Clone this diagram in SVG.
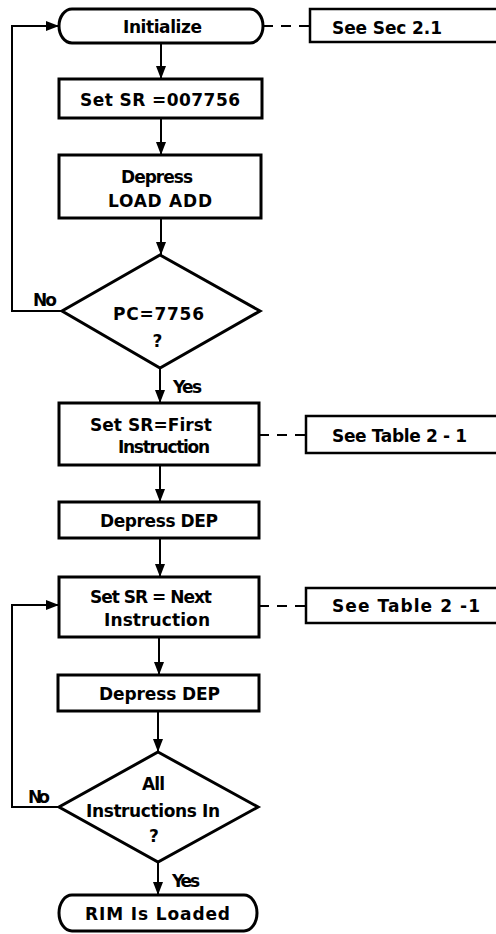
<svg xmlns="http://www.w3.org/2000/svg" width="496" height="934" viewBox="0 0 496 934">
<style>
.box{fill:#fff;stroke:#000;stroke-width:3}
.ann{fill:none;stroke:#000;stroke-width:2.5}
.conn{fill:none;stroke:#000;stroke-width:2}
.dash{stroke-dasharray:10 8}
.t{font-family:"DejaVu Sans","Liberation Sans",sans-serif;font-weight:bold;font-size:17px;text-anchor:middle;fill:#000}
</style>
<defs>
<marker id="ah" markerUnits="userSpaceOnUse" markerWidth="13" markerHeight="10" refX="13" refY="5" orient="auto">
<path d="M0,0 L13,5 L0,10 z" fill="#000"/>
</marker>
</defs>
<rect width="496" height="934" fill="#fff"/>
<g id="connectors">
<line class="conn" x1="161" y1="43" x2="161" y2="79" marker-end="url(#ah)"/>
<line class="conn" x1="161" y1="118" x2="161" y2="155" marker-end="url(#ah)"/>
<line class="conn" x1="161" y1="218" x2="161" y2="255" marker-end="url(#ah)"/>
<line class="conn" x1="160" y1="368" x2="160" y2="403" marker-end="url(#ah)"/>
<polyline class="conn" points="62,311 12,311 12,26 59,26" marker-end="url(#ah)"/>
<line class="conn" x1="160" y1="465" x2="160" y2="502" marker-end="url(#ah)"/>
<line class="conn" x1="160" y1="538" x2="160" y2="577" marker-end="url(#ah)"/>
<line class="conn" x1="159" y1="637" x2="159" y2="675" marker-end="url(#ah)"/>
<line class="conn" x1="158" y1="711" x2="158" y2="752" marker-end="url(#ah)"/>
<line class="conn" x1="158" y1="862" x2="158" y2="895" marker-end="url(#ah)"/>
<polyline class="conn" points="59,807 12,807 12,605 59,605" marker-end="url(#ah)"/>
<line class="conn dash" x1="263" y1="26" x2="310" y2="26"/>
<line class="conn dash" x1="259" y1="435" x2="306" y2="435"/>
<line class="conn dash" x1="259" y1="606" x2="306" y2="606"/>
<text class="t" x="45" y="306" textLength="24" lengthAdjust="spacing">No</text>
<text class="t" x="187.5" y="393" textLength="29" lengthAdjust="spacing">Yes</text>
<text class="t" x="39" y="803" textLength="22" lengthAdjust="spacing">No</text>
<text class="t" x="186" y="887" textLength="28" lengthAdjust="spacing">Yes</text>
</g>
<g id="initialize">
<rect class="box" x="59" y="9" width="204" height="34" rx="13" ry="17"/>
<text class="t" x="162.5" y="33" textLength="79" lengthAdjust="spacing">Initialize</text>
</g>
<g id="see-sec-2-1">
<path class="ann" d="M497,9 H310 V42 H497"/>
<text class="t" x="387" y="34" textLength="110" lengthAdjust="spacing">See Sec  2.1</text>
</g>
<g id="set-sr-007756">
<rect class="box" x="59" y="79" width="203" height="39"/>
<text class="t" x="160" y="106" textLength="160" lengthAdjust="spacing">Set SR =007756</text>
</g>
<g id="depress-load-add">
<rect class="box" x="59" y="155" width="202" height="63"/>
<text class="t" x="157" y="183" textLength="72" lengthAdjust="spacing">Depress</text>
<text class="t" x="160" y="207" textLength="104" lengthAdjust="spacing">LOAD ADD</text>
</g>
<g id="pc-7756">
<polygon class="box" points="160,255 260,311 160,368 62,311"/>
<text class="t" x="158.5" y="320" textLength="91" lengthAdjust="spacing">PC=7756</text>
<text class="t" x="157.5" y="347">?</text>
</g>
<g id="set-sr-first">
<rect class="box" x="59" y="403" width="200" height="62"/>
<text class="t" x="151" y="431" textLength="122" lengthAdjust="spacing">Set SR=First</text>
<text class="t" x="164" y="453" textLength="92" lengthAdjust="spacing">Instruction</text>
</g>
<g id="see-table-2-1-a">
<path class="ann" d="M497,416 H306 V453 H497"/>
<text class="t" x="399.5" y="442" textLength="135" lengthAdjust="spacing">See  Table 2 - 1</text>
</g>
<g id="depress-dep-1">
<rect class="box" x="59" y="502" width="200" height="36"/>
<text class="t" x="159" y="527" textLength="118" lengthAdjust="spacing">Depress DEP</text>
</g>
<g id="set-sr-next">
<rect class="box" x="59" y="577" width="200" height="60"/>
<text class="t" x="151" y="603" textLength="122" lengthAdjust="spacing">Set SR = Next</text>
<text class="t" x="157" y="626" textLength="106" lengthAdjust="spacing">Instruction</text>
</g>
<g id="see-table-2-1-b">
<path class="ann" d="M497,588 H306 V623 H497"/>
<text class="t" x="406" y="612" textLength="148" lengthAdjust="spacing">See  Table  2 -1</text>
</g>
<g id="depress-dep-2">
<rect class="box" x="58" y="675" width="201" height="36"/>
<text class="t" x="159.5" y="700" textLength="121" lengthAdjust="spacing">Depress DEP</text>
</g>
<g id="all-instructions-in">
<polygon class="box" points="158,752 258,807 158,862 59,807"/>
<text class="t" x="153.5" y="790" textLength="23" lengthAdjust="spacing">All</text>
<text class="t" x="153" y="817" textLength="134" lengthAdjust="spacing">Instructions In</text>
<text class="t" x="154" y="842">?</text>
</g>
<g id="rim-is-loaded">
<rect class="box" x="59" y="895" width="198" height="36" rx="13" ry="18"/>
<text class="t" x="157.5" y="920" textLength="145" lengthAdjust="spacing">RIM Is Loaded</text>
</g>
</svg>
